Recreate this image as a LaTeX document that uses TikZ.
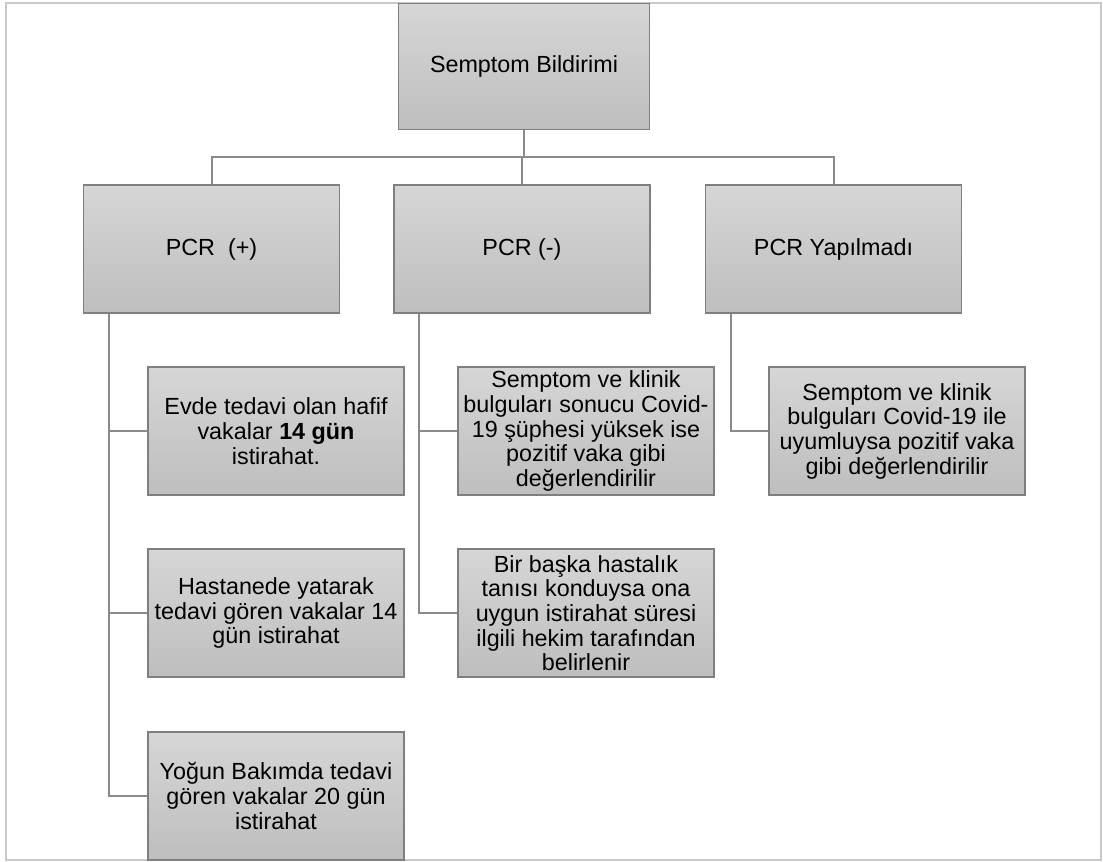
\documentclass[tikz,border=0pt]{standalone}
\usepackage{fontspec}
\setmainfont{Liberation Sans}
\usetikzlibrary{calc}

\definecolor{boxtop}{HTML}{D6D6D6}
\definecolor{boxbot}{HTML}{BEBEBE}
\definecolor{boxline}{HTML}{7F7F7F}
\definecolor{connline}{HTML}{8A8A8A}
\definecolor{frameline}{HTML}{C8C8C8}

\tikzset{
  box/.style={draw=boxline, line width=0.8pt, top color=boxtop, bottom color=boxbot,
    minimum width=192pt, minimum height=96pt, inner sep=1pt, align=center,
    font=\fontsize{17.5pt}{18.5pt}\selectfont},
  conn/.style={draw=connline, line width=1.5pt},
}

\begin{document}
\begin{tikzpicture}[x=0.75pt,y=0.75pt,yscale=-1,xscale=1]
\useasboundingbox (0,0) rectangle (1103,861);

%Frame
\draw [frameline, line width=1.5pt] (6,3) rectangle (1101,860);

%Top level
\node [box, minimum width=188pt, minimum height=95pt] (sb) at (524,66.5) {Semptom Bildirimi};

%Second level
\node [box] (pp) at (211.5,249) {PCR~~(+)};
\node [box] (pn) at (522,249) {PCR (-)};
\node [box] (py) at (833.5,249) {PCR Yapılmadı};

%Children of PCR (+)
\node [box] (evde) at (276,431) {Evde tedavi olan hafif\\vakalar \textbf{14 gün}\\istirahat.};
\node [box] (hast) at (276,613) {Hastanede yatarak\\tedavi gören vakalar 14\\gün istirahat};
\node [box] (yog) at (276,796) {Yoğun Bakımda tedavi\\gören vakalar 20 gün\\istirahat};

%Children of PCR (-)
\node [box] (supheli) at (586,431) {Semptom ve klinik\\bulguları sonucu Covid-\\19 şüphesi yüksek ise\\pozitif vaka gibi\\değerlendirilir};
\node [box] (baska) at (586,613) {Bir başka hastalık\\tanısı konduysa ona\\uygun istirahat süresi\\ilgili hekim tarafından\\belirlenir};

%Child of PCR Yapilmadi
\node [box] (uyum) at (897,431) {Semptom ve klinik\\bulguları Covid-19 ile\\uyumluysa pozitif vaka\\gibi değerlendirilir};

%Connectors
\coordinate (bus) at (523,157);
\draw [conn] (sb.south) -- (sb.south |- bus);
\draw [conn] (pp.north) |- (bus) -| (py.north);
\draw [conn] (pn.north) -- (pn.north |- bus);

\coordinate (ppT) at ($(pp.south west)!0.1!(pp.south east)$);
\draw [conn] (ppT) |- (evde.west);
\draw [conn] (ppT) |- (hast.west);
\draw [conn] (ppT) |- (yog.west);

\coordinate (pnT) at ($(pn.south west)!0.1!(pn.south east)$);
\draw [conn] (pnT) |- (supheli.west);
\draw [conn] (pnT) |- (baska.west);

\coordinate (pyT) at ($(py.south west)!0.1!(py.south east)$);
\draw [conn] (pyT) |- (uyum.west);

\end{tikzpicture}
\end{document}
